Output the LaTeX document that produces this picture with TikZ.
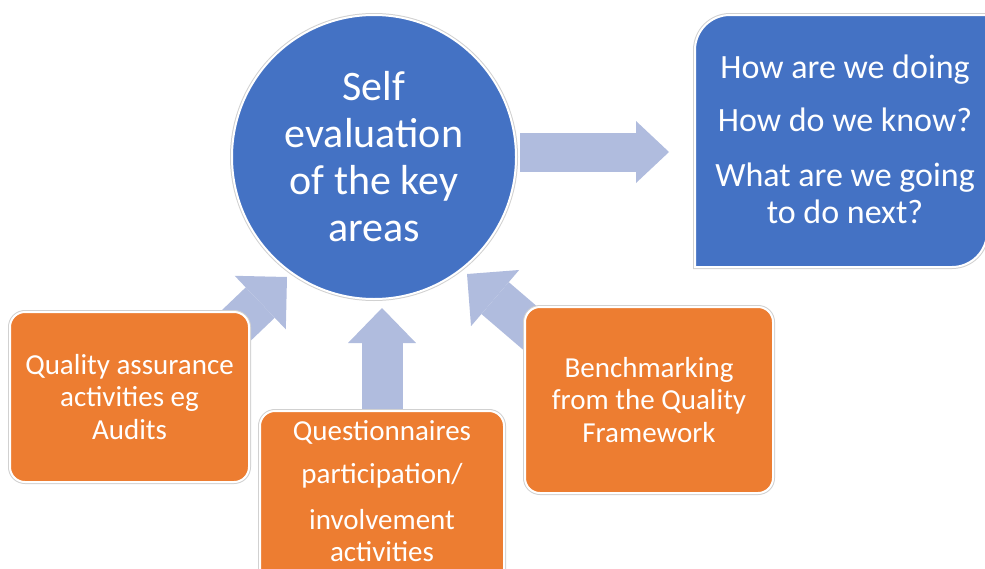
\documentclass[tikz,border=0pt]{standalone}
\usepackage{fontspec}
\setmainfont{Carlito}
\usetikzlibrary{arrows.meta, positioning, calc}
\definecolor{areablue}{RGB}{68,114,196}
\definecolor{actorange}{RGB}{237,125,49}
\definecolor{flowblue}{RGB}{176,188,222}
\pgfdeclarelayer{back}
\pgfsetlayers{back,main}

\begin{document}
\begin{tikzpicture}[x=1pt, y=1pt,
    outlined/.style={draw=white, line width=2pt, preaction={draw=black!18, line width=4pt}},
    actbox/.style={outlined, fill=actorange, rounded corners=15pt, text=white, align=center, font=\fontsize{29}{32.5}\selectfont},
    whitetext/.style={text=white, align=center, inner sep=0pt},
    blockarrow/.style={draw=flowblue, line width=42pt, -{Triangle[width=74pt, length=37pt, line width=0pt]}}]
    \useasboundingbox (0,0) rectangle (985,-568);

    % key areas
    \node[circle, outlined, fill=areablue, minimum size=284pt, inner sep=0pt, whitetext, font=\fontsize{42}{47}\selectfont] (selfeval) at (374,-157) {Self\\evaluation\\of the key\\areas};

    % next steps box, round diagonal corners
    \path[outlined, fill=areablue] (695,-267) -- (695,-50) .. controls (695,-30.7) and (710.7,-15) .. (730,-15) -- (987,-15) -- (987,-232) .. controls (987,-251.3) and (971.3,-267) .. (952,-267) -- cycle;
    \node[whitetext, font=\fontsize{34}{37}\selectfont] (questions) at (845,-139) {How are we doing\\[16pt]How do we know?\\[18pt]What are we going\\to do next?};

    % evidence
    \node[actbox, minimum width=239pt, minimum height=170pt] (quality) at (129.5,-397) {Quality assurance\\activities eg\\Audits};
    \node[actbox, minimum width=248pt, minimum height=186pt] (bench) at (649,-400) {Benchmarking\\from the Quality\\Framework};
    \node[actbox, minimum width=244pt, minimum height=190pt, anchor=north] (questionnaires) at (382,-410) {};
    \node[whitetext, anchor=north, font=\fontsize{29}{32.5}\selectfont] (questionnaires-text) at (382,-420) {Questionnaires\\[11pt]participation/\\[13pt]involvement\\activities};

    \begin{pgfonlayer}{back}
        \draw[blockarrow, line width=39pt, -{Triangle[width=62pt, length=33pt, line width=0pt]}, shorten <=3pt] ([yshift=5pt]selfeval.east) -- ++(152,0);
        \draw[blockarrow] ([shift={(-30pt,-30pt)}]quality.north east) -- ++(67,64);
        \draw[blockarrow, line width=41pt, -{Triangle[width=68pt, length=35pt, line width=0pt]}] (questionnaires.north) -- ++(0,102);
        \draw[blockarrow] ([shift={(34pt,-46pt)}]bench.north west) -- ++(-91,78);
    \end{pgfonlayer}
\end{tikzpicture}
\end{document}
